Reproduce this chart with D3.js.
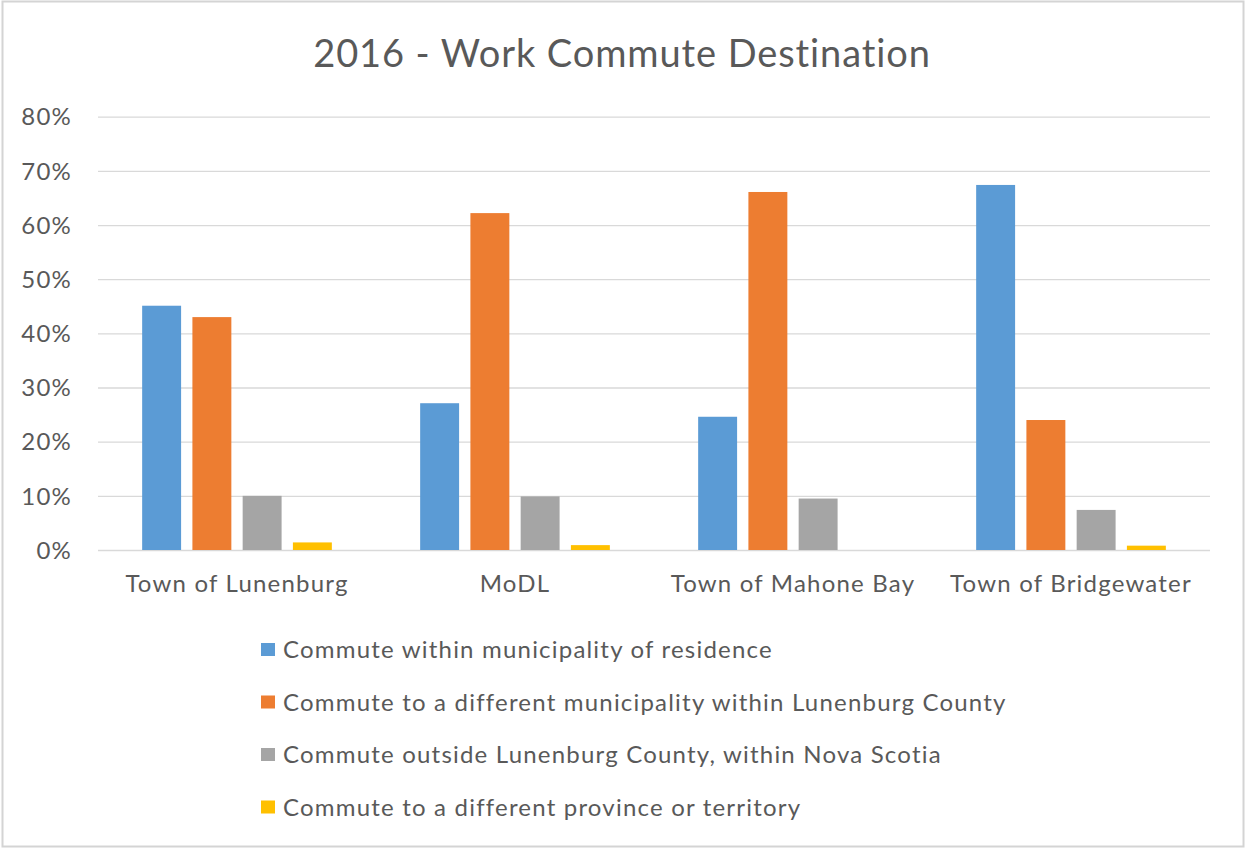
<!DOCTYPE html>
<html>
<head>
<meta charset="utf-8">
<script src="https://cdn.jsdelivr.net/npm/d3@7/dist/d3.min.js"></script>
<style>
  html, body { margin: 0; padding: 0; background: #fff; }
  svg { display: block; }
  text { font-family: Lato, "Open Sans", sans-serif; fill: #595959; }
</style>
</head>
<body>
<svg id="chart" width="1246" height="849"></svg>
<script>
// Share of employed residents by commute destination, 2016 (fractions)
const categories = ["Town of Lunenburg", "MoDL", "Town of Mahone Bay", "Town of Bridgewater"];
const seriesNames = [
  "Commute within municipality of residence",
  "Commute to a different municipality within Lunenburg County",
  "Commute outside Lunenburg County, within Nova Scotia",
  "Commute to a different province or territory"
];
const withinMunicipality    = [0.451, 0.271, 0.246, 0.674];
const differentMunicipality = [0.430, 0.622, 0.661, 0.240];
const outsideCounty         = [0.100, 0.099, 0.095, 0.074];
const otherProvince         = [0.014, 0.009, 0.000, 0.008];
const yTicks = [0, 0.1, 0.2, 0.3, 0.4, 0.5, 0.6, 0.7, 0.8];
const colors = ["#5B9BD5", "#ED7D31", "#A5A5A5", "#FFC000"];

const seriesValues = [withinMunicipality, differentMunicipality, outsideCounty, otherProvince];

const W = 1246, H = 849;
const plot = { left: 98, right: 1210, top: 116.7, bottom: 550 };
const labelFont = { size: "24px", spacing: "1.2px" };

const svg = d3.select("#chart");

// chart frame
svg.append("rect")
  .attr("x", 2.5).attr("y", 1.5)
  .attr("width", W - 5).attr("height", H - 4)
  .attr("fill", "#fff")
  .attr("stroke", "#d4d4d4").attr("stroke-width", 2);

// title
svg.append("text")
  .attr("x", 622).attr("y", 67)
  .attr("text-anchor", "middle")
  .style("font-size", "38px")
  .style("letter-spacing", "0.9px")
  .text("2016 - Work Commute Destination");

const y = d3.scaleLinear().domain([0, 0.8]).range([plot.bottom, plot.top]);
const x0 = d3.scaleBand().domain(categories)
  .range([plot.left, plot.right])
  .paddingInner(0.277).paddingOuter(0.1385);
const x1 = d3.scaleBand().domain(d3.range(seriesNames.length))
  .range([0, x0.bandwidth()])
  .paddingInner(0.225).paddingOuter(0.1125);

// gridlines and y labels
const yAxis = d3.axisLeft(y)
  .tickValues(yTicks)
  .tickFormat(d3.format(".0%"))
  .tickSize(-(plot.right - plot.left))
  .tickPadding(26);

const gy = svg.append("g")
  .attr("transform", `translate(${plot.left},0)`)
  .call(yAxis);
gy.select(".domain").remove();
gy.selectAll(".tick line").attr("stroke", "#d9d9d9").attr("stroke-width", 1.3);
gy.selectAll(".tick text")
  .style("font-size", labelFont.size)
  .style("letter-spacing", labelFont.spacing)
  .attr("fill", "#595959")
  .attr("dy", "0.34em");

// bars
const groups = svg.append("g").selectAll("g")
  .data(categories)
  .join("g")
  .attr("transform", d => `translate(${x0(d)},0)`);

groups.selectAll("rect")
  .data((c, i) => seriesValues.map((vals, s) => ({ s, v: vals[i] })))
  .join("rect")
  .attr("x", d => x1(d.s))
  .attr("width", x1.bandwidth())
  .attr("y", d => y(d.v))
  .attr("height", d => y(0) - y(d.v))
  .attr("fill", d => colors[d.s]);

// category axis labels
const xAxis = d3.axisBottom(x0).tickSize(0).tickPadding(25);
const gx = svg.append("g")
  .attr("transform", `translate(0,${plot.bottom})`)
  .call(xAxis);
gx.select(".domain").remove();
gx.selectAll(".tick text")
  .style("font-size", labelFont.size)
  .style("letter-spacing", labelFont.spacing)
  .attr("fill", "#595959");

// legend
const legend = svg.append("g")
  .attr("transform", "translate(261,0)")
  .selectAll("g")
  .data(seriesNames)
  .join("g")
  .attr("transform", (d, i) => `translate(0,${658 + i * 52.5})`);

legend.append("rect")
  .attr("x", 0).attr("y", -15)
  .attr("width", 14).attr("height", 13)
  .attr("fill", (d, i) => colors[i]);

legend.append("text")
  .attr("x", 22).attr("y", 0)
  .style("font-size", labelFont.size)
  .style("letter-spacing", labelFont.spacing)
  .text(d => d);
</script>
</body>
</html>
